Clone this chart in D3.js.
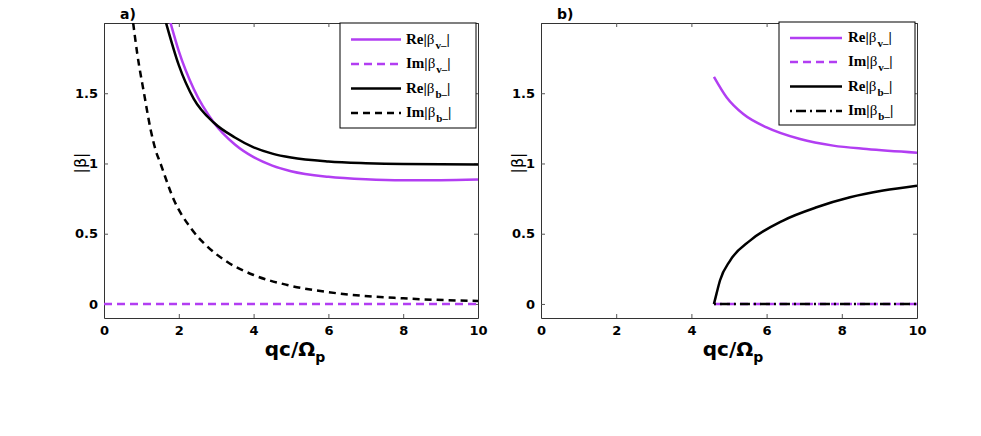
<!DOCTYPE html>
<html>
<head>
<meta charset="utf-8">
<script src="https://cdn.jsdelivr.net/npm/d3@7"></script>
<style>
  body { margin: 0; background: #fff; }
  svg { display: block; }
  .tick text { font-family: "DejaVu Sans", sans-serif; font-weight: bold; font-size: 13px; fill: #000; }
</style>
</head>
<body>
<svg id="chart" width="981" height="436"></svg>
<script>
// ---------- data ----------
const xTicks = [0, 2, 4, 6, 8, 10];
const yTicks = [0, 0.5, 1, 1.5];
const yTickLabels = ["0", "0.5", "1", "1.5"];

// Panel a)
const qA_reV  = [1.78, 2.0, 2.4, 2.94, 3.5, 4.0, 4.5, 5.0, 6.0, 7.0, 8.0, 9.0, 10];
const a_reV   = [2.0, 1.80, 1.53, 1.29, 1.135, 1.045, 0.985, 0.945, 0.905, 0.887, 0.880, 0.881, 0.886];
const qA_imV  = [0, 10];
const a_imV   = [0, 0];
const qA_reB  = [1.66, 2.0, 2.4, 2.94, 3.5, 4.0, 4.5, 5.0, 6.0, 7.0, 8.0, 10];
const a_reB   = [2.0, 1.70, 1.46, 1.29, 1.185, 1.115, 1.07, 1.042, 1.014, 1.002, 0.996, 0.993];
const qA_imB  = [0.78, 0.89, 1.07, 1.25, 1.38, 1.51, 1.87, 2.32, 2.76, 3.29, 4.0, 4.9, 6.23, 8.0, 10];
const a_imB   = [2.0, 1.78, 1.50, 1.237, 1.095, 1.0, 0.74, 0.54, 0.41, 0.30, 0.206, 0.135, 0.076, 0.04, 0.021];

// Panel b)
const qB_reV  = [4.6, 4.94, 5.38, 6.0, 6.89, 7.77, 8.66, 10];
const b_reV   = [1.617, 1.47, 1.352, 1.257, 1.174, 1.127, 1.103, 1.077];
const qB_imV  = [4.6, 10];
const b_imV   = [0, 0];
const qB_reB  = [4.6, 4.67, 4.76, 5.03, 5.56, 6.44, 7.33, 8.22, 9.1, 10];
const b_reB   = [0, 0.075, 0.167, 0.309, 0.451, 0.594, 0.688, 0.759, 0.807, 0.842];
const qB_imB  = [4.6, 10];
const b_imB   = [0, 0];

const legendMain = ["Re|β", "Im|β", "Re|β", "Im|β"];
const legendSub  = ["v–", "v–", "b–", "b–"];

// ---------- drawing ----------
const purple = "#b23ef2";
const svg = d3.select("#chart");

const panels = [
  { id: "a", label: "a)", left: 104, right: 478, top: 23, bottom: 318,
    series: [
      { q: qA_reV, v: a_reV, color: purple, dash: null },
      { q: qA_imV, v: a_imV, color: purple, dash: "8,5" },
      { q: qA_reB, v: a_reB, color: "#000", dash: null },
      { q: qA_imB, v: a_imB, color: "#000", dash: "7,5" }
    ],
    legendDash: [null, "8,5", null, "7,5"],
    legend: { x0: 340, x1: 476, y0: 23, y1: 128, lx0: 351, lx1: 401, tx: 406, rows: [39.5, 64, 88.5, 113] }
  },
  { id: "b", label: "b)", left: 541, right: 917, top: 23, bottom: 318,
    series: [
      { q: qB_reV, v: b_reV, color: purple, dash: null },
      { q: qB_imV, v: b_imV, color: purple, dash: "8,5" },
      { q: qB_reB, v: b_reB, color: "#000", dash: null },
      { q: qB_imB, v: b_imB, color: "#000", dash: "2,4,10,4" }
    ],
    legendDash: [null, "8,5", null, "2,4,10,4"],
    legend: { x0: 779, x1: 915, y0: 22, y1: 125, lx0: 790, lx1: 842, tx: 848, rows: [38, 62, 86.5, 111] }
  }
];

const legendColors = [purple, purple, "#000", "#000"];

panels.forEach(p => {
  const x = d3.scaleLinear().domain([0, 10]).range([p.left, p.right]);
  const y = d3.scaleLinear().domain([-0.1, 2.0]).range([p.bottom, p.top]);
  const g = svg.append("g");

  svg.append("clipPath").attr("id", "clip-" + p.id)
    .append("rect").attr("x", p.left).attr("y", p.top)
    .attr("width", p.right - p.left).attr("height", p.bottom - p.top);

  const axB = d3.axisBottom(x).tickValues(xTicks).tickFormat(d3.format("d"))
    .tickSizeInner(-4).tickSizeOuter(0).tickPadding(8);
  const axT = d3.axisTop(x).tickValues(xTicks).tickFormat("")
    .tickSizeInner(-4).tickSizeOuter(0);
  const axL = d3.axisLeft(y).tickValues(yTicks).tickFormat((d, i) => yTickLabels[i])
    .tickSizeInner(-4).tickSizeOuter(0).tickPadding(6);
  const axR = d3.axisRight(y).tickValues(yTicks).tickFormat("")
    .tickSizeInner(-4).tickSizeOuter(0);

  g.append("g").attr("transform", `translate(0,${p.bottom})`).call(axB);
  g.append("g").attr("transform", `translate(0,${p.top})`).call(axT);
  g.append("g").attr("transform", `translate(${p.left},0)`).call(axL);
  g.append("g").attr("transform", `translate(${p.right},0)`).call(axR);
  g.selectAll(".domain").attr("stroke", "#333").attr("stroke-width", 1);
  g.selectAll(".tick line").attr("stroke", "#555");

  const line = d3.line().x(d => x(d[0])).y(d => y(d[1])).curve(d3.curveMonotoneX);
  const sg = g.append("g").attr("clip-path", `url(#clip-${p.id})`);
  p.series.forEach(s => {
    const pts = s.q.map((q, i) => [q, s.v[i]]);
    sg.append("path").datum(pts)
      .attr("d", line)
      .attr("fill", "none")
      .attr("stroke", s.color)
      .attr("stroke-width", 2.5)
      .attr("stroke-dasharray", s.dash);
  });

  g.append("text").attr("x", p.left + 16).attr("y", 19)
    .attr("font-family", "DejaVu Sans, sans-serif").attr("font-weight", "bold")
    .attr("font-size", 14).text(p.label);

  const xl = g.append("text")
    .attr("x", (p.left + p.right) / 2 + 4).attr("y", 356)
    .attr("text-anchor", "middle")
    .attr("font-family", "DejaVu Sans, sans-serif").attr("font-weight", "bold")
    .attr("font-size", 20);
  xl.append("tspan").text("qc/Ω");
  xl.append("tspan").attr("dy", 6).attr("font-size", 14).text("p");

  g.append("text")
    .attr("transform", `translate(${p.left - 18},163) rotate(-90)`)
    .attr("text-anchor", "middle")
    .attr("font-family", "DejaVu Sans, sans-serif")
    .attr("font-size", 16).text("|β|");

  const L = p.legend;
  const lg = g.append("g");
  lg.append("rect").attr("x", L.x0).attr("y", L.y0)
    .attr("width", L.x1 - L.x0).attr("height", L.y1 - L.y0)
    .attr("fill", "#fff").attr("stroke", "#000").attr("stroke-width", 1);
  legendMain.forEach((m, i) => {
    const ry = L.rows[i];
    lg.append("line").attr("x1", L.lx0).attr("x2", L.lx1)
      .attr("y1", ry).attr("y2", ry)
      .attr("stroke", legendColors[i]).attr("stroke-width", 2.5)
      .attr("stroke-dasharray", p.legendDash[i]);
    const t = lg.append("text").attr("x", L.tx).attr("y", ry + 4)
      .attr("font-family", "Liberation Serif, serif").attr("font-weight", "bold")
      .attr("font-size", 15);
    t.append("tspan").text(m.slice(0, 3));
    t.append("tspan").attr("font-weight", "normal").text(m.slice(3));
    t.append("tspan").attr("dy", 5).attr("dx", 1).attr("font-size", 11).text(legendSub[i]);
    t.append("tspan").attr("dy", -5).text("|");
  });
});
</script>
</body>
</html>
